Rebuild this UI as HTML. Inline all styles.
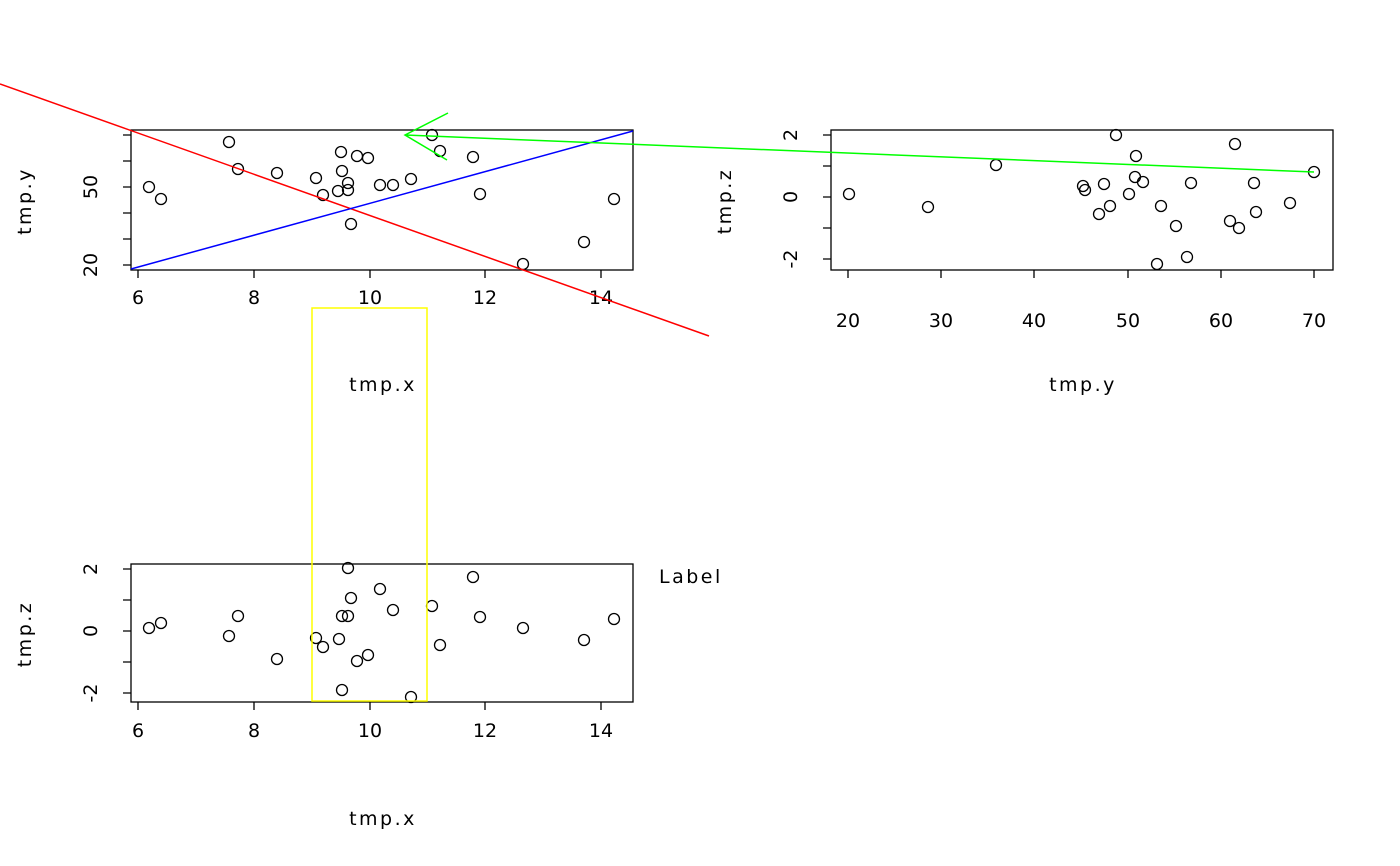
<!DOCTYPE html>
<html><head><meta charset="utf-8"><style>body{margin:0;background:#fff}svg{display:block}.t{letter-spacing:2.5px}</style></head><body>
<svg width="1400" height="866" viewBox="0 0 1400 866" xmlns="http://www.w3.org/2000/svg" font-family="DejaVu Sans, Liberation Sans, sans-serif" font-size="19" fill="#000">
<g fill="none" stroke="#000" stroke-width="1.3">
<rect x="131" y="130" width="502" height="140"/>
<rect x="831" y="130" width="502" height="140"/>
<rect x="131" y="564" width="502" height="138"/>
<path d="M138 270v8M254 270v8M370 270v8M485 270v8M601 270v8"/>
<path d="M131 265h-8M131 239h-8M131 213h-8M131 187h-8M131 161h-8M131 135h-8"/>
<path d="M848 270v8M941 270v8M1034 270v8M1128 270v8M1221 270v8M1314 270v8"/>
<path d="M831 259h-8M831 228h-8M831 197h-8M831 166h-8M831 135h-8"/>
<path d="M138 702v8M254 702v8M370 702v8M485 702v8M601 702v8"/>
<path d="M131 693h-8M131 662h-8M131 631h-8M131 600h-8M131 569h-8"/>
</g>
<g text-anchor="middle">
<text x="138" y="304">6</text><text x="254" y="304">8</text><text x="370" y="304">10</text><text x="485" y="304">12</text><text x="601" y="304">14</text>
<text x="848" y="327">20</text><text x="941" y="327">30</text><text x="1034" y="327">40</text><text x="1128" y="327">50</text><text x="1221" y="327">60</text><text x="1314" y="327">70</text>
<text x="138" y="737">6</text><text x="254" y="737">8</text><text x="370" y="737">10</text><text x="485" y="737">12</text><text x="601" y="737">14</text>
<text class="t" x="383" y="391">tmp.x</text><text class="t" x="1083" y="391">tmp.y</text><text class="t" x="383" y="825">tmp.x</text>
<text transform="translate(97,265) rotate(-90)">20</text><text transform="translate(97,187) rotate(-90)">50</text>
<text transform="translate(797,259) rotate(-90)">-2</text><text transform="translate(797,197) rotate(-90)">0</text><text transform="translate(797,135) rotate(-90)">2</text>
<text transform="translate(97,693) rotate(-90)">-2</text><text transform="translate(97,631) rotate(-90)">0</text><text transform="translate(97,569) rotate(-90)">2</text>
<text class="t" transform="translate(31,201) rotate(-90)">tmp.y</text><text class="t" transform="translate(731,201) rotate(-90)">tmp.z</text><text class="t" transform="translate(31,634) rotate(-90)">tmp.z</text>
</g>
<text class="t" x="659" y="583">Label</text>
<g fill="none" stroke="#000" stroke-width="1.3">
<circle cx="149" cy="187" r="5.5"/><circle cx="161" cy="199" r="5.5"/><circle cx="229" cy="142" r="5.5"/><circle cx="238" cy="169" r="5.5"/><circle cx="277" cy="173" r="5.5"/><circle cx="316" cy="178" r="5.5"/><circle cx="323" cy="195" r="5.5"/><circle cx="338" cy="191" r="5.5"/><circle cx="341" cy="152" r="5.5"/><circle cx="342" cy="171" r="5.5"/><circle cx="348" cy="183" r="5.5"/><circle cx="348" cy="190" r="5.5"/><circle cx="351" cy="224" r="5.5"/><circle cx="357" cy="156" r="5.5"/><circle cx="368" cy="158" r="5.5"/><circle cx="380" cy="185" r="5.5"/><circle cx="393" cy="185" r="5.5"/><circle cx="411" cy="179" r="5.5"/><circle cx="432" cy="135" r="5.5"/><circle cx="440" cy="151" r="5.5"/><circle cx="473" cy="157" r="5.5"/><circle cx="480" cy="194" r="5.5"/><circle cx="523" cy="264" r="5.5"/><circle cx="584" cy="242" r="5.5"/><circle cx="614" cy="199" r="5.5"/>
<circle cx="849" cy="194" r="5.5"/><circle cx="928" cy="207" r="5.5"/><circle cx="996" cy="165" r="5.5"/><circle cx="1083" cy="186" r="5.5"/><circle cx="1085" cy="190" r="5.5"/><circle cx="1099" cy="214" r="5.5"/><circle cx="1104" cy="184" r="5.5"/><circle cx="1110" cy="206" r="5.5"/><circle cx="1116" cy="135" r="5.5"/><circle cx="1129" cy="194" r="5.5"/><circle cx="1135" cy="177" r="5.5"/><circle cx="1136" cy="156" r="5.5"/><circle cx="1143" cy="182" r="5.5"/><circle cx="1157" cy="264" r="5.5"/><circle cx="1161" cy="206" r="5.5"/><circle cx="1176" cy="226" r="5.5"/><circle cx="1187" cy="257" r="5.5"/><circle cx="1191" cy="183" r="5.5"/><circle cx="1230" cy="221" r="5.5"/><circle cx="1235" cy="144" r="5.5"/><circle cx="1239" cy="228" r="5.5"/><circle cx="1254" cy="183" r="5.5"/><circle cx="1256" cy="212" r="5.5"/><circle cx="1290" cy="203" r="5.5"/><circle cx="1314" cy="172" r="5.5"/>
<circle cx="149" cy="628" r="5.5"/><circle cx="161" cy="623" r="5.5"/><circle cx="229" cy="636" r="5.5"/><circle cx="238" cy="616" r="5.5"/><circle cx="277" cy="659" r="5.5"/><circle cx="316" cy="638" r="5.5"/><circle cx="323" cy="647" r="5.5"/><circle cx="339" cy="639" r="5.5"/><circle cx="342" cy="690" r="5.5"/><circle cx="342" cy="616" r="5.5"/><circle cx="348" cy="568" r="5.5"/><circle cx="348" cy="616" r="5.5"/><circle cx="351" cy="598" r="5.5"/><circle cx="357" cy="661" r="5.5"/><circle cx="368" cy="655" r="5.5"/><circle cx="380" cy="589" r="5.5"/><circle cx="393" cy="610" r="5.5"/><circle cx="411" cy="697" r="5.5"/><circle cx="432" cy="606" r="5.5"/><circle cx="440" cy="645" r="5.5"/><circle cx="473" cy="577" r="5.5"/><circle cx="480" cy="617" r="5.5"/><circle cx="523" cy="628" r="5.5"/><circle cx="584" cy="640" r="5.5"/><circle cx="614" cy="619" r="5.5"/>
</g>
<g fill="none" stroke-width="1.5">
<line x1="0" y1="84" x2="709" y2="336" stroke="#ff0000"/>
<line x1="131" y1="269" x2="633" y2="131" stroke="#0000ff"/>
<path d="M405 135L1314 172M448 113L405 135L447 160" stroke="#00ff00"/>
<rect x="312" y="308" width="115" height="393" stroke="#ffff00"/>
</g>
</svg>
</body></html>
